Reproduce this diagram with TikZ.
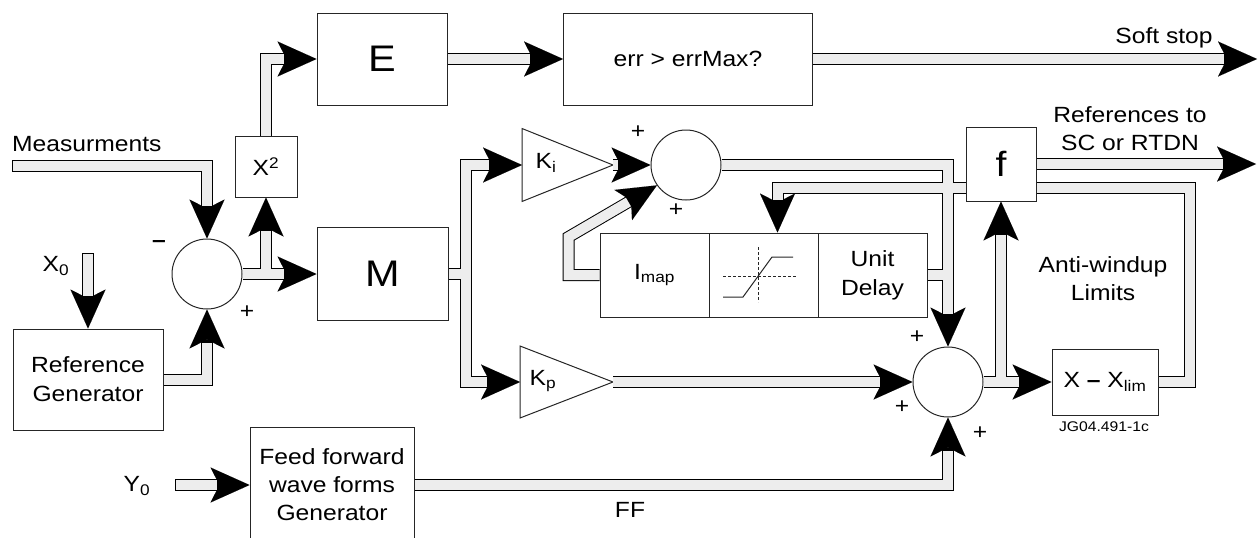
\documentclass[tikz,border=0pt]{standalone}
\usepackage{fontspec}
\setmainfont{Liberation Sans}[FakeStretch=1.12]
\usetikzlibrary{arrows.meta,calc}
\definecolor{pipegray}{HTML}{EDEDED}
\pgfdeclarelayer{tri}
\pgfdeclarelayer{pipes}
\pgfsetlayers{tri,pipes,main}
\newcommand\drawpipes[1]{%
  \draw[#1,arr] (E.east) -- (err.west);
  \draw[#1,arr] (err.east) -- (softend);
  \draw[#1,arr] (x2.north) |- (E.west);
  \draw[#1,arr] (s1.east) -- (M.west);
  \draw[#1,arr] (x2.south |- s1.east) -- (x2.south);
  \draw[#1,arr,freestart] (meas) -| (s1.north);
  \draw[#1,arr,freestart] (x0p) -- (rg.north);
  \draw[#1,arr] (rg.east) -| (s1.south);
  \draw[#1] (M.east) -- (mj);
  \draw[#1,arr] (mj) |- (ki);
  \draw[#1,arr] (mj) |- (kp);
  \draw[#1,arr] (kitip) -- (s2.west);
  \draw[#1,arr] (kptip) -- (s3.west);
  \draw[#1,arr] (s2.east) -| (s3.north);
  \draw[#1] (ud.east) -- (ud.east -| s3.north);
  \draw[#1,arr] (imap.west) -| (ib) -- (s2.215);
  \draw[#1,arr] (s3.east) -- (xl.west);
  \draw[#1,arr] (f.south |- s3.east) -- (f.south);
  \draw[#1,arr] (f.east) -- (refend);
  \draw[#1,arr] (xl.east) -| (awR) -| (satin);
  \draw[#1,arr,freestart] (y0p) -- (ff.west);
  \draw[#1,arr] (ff.east) -| (s3.south);
}
\begin{document}
\begin{tikzpicture}[x=1pt,y=-1pt,
  box/.style={draw=black!85, fill=white, line width=1pt, inner sep=0pt, align=center,
    font=\fontsize{22}{29}\selectfont},
  bigbox/.style={box, font=\fontsize{37}{37}\selectfont},
  sumc/.style={draw=black!85, fill=white, circle, minimum size=70pt, inner sep=0pt, line width=1pt},
  tri/.style={draw=black!85, fill=white, line width=1pt, line join=miter},
  lbl/.style={font=\fontsize{22}{28}\selectfont, align=center, inner sep=0pt},
  sgn/.style={font=\fontsize{22}{22}\selectfont, inner sep=0pt},
  outerpipe/.style={draw=black, line width=12pt, line join=miter, line cap=butt},
  innerpipe/.style={draw=pipegray, line width=10pt, line join=miter, line cap=butt},
]
\useasboundingbox (0,0) rectangle (1259,538);

% ---- blocks ----
\node[bigbox, minimum width=130pt, minimum height=92pt] (E) at (382,59) {E};
\node[box, minimum width=249pt, minimum height=92pt] (err) at (688,59) {err > errMax?};
\node[box, minimum width=62pt, minimum height=61pt] (x2) at (266,166.5) {X\textsuperscript{2}};
\node[sumc] (s1) at (207,274) {};
\node[bigbox, minimum width=131pt, minimum height=93pt] (M) at (382.5,274) {M};
\node[box, minimum width=150pt, minimum height=101pt] (rg) at (88,379.5) {Reference\\Generator};
\node[box, minimum width=164pt, minimum height=116pt, font=\fontsize{22}{28}\selectfont] (ff) at (332,485)
  {Feed forward\\wave forms\\Generator};
\node[sumc] (s2) at (686,165) {};
\node[sumc] (s3) at (948,382) {};
\node[box, minimum width=109pt, minimum height=84pt] (imap) at (654.5,275) {I\textsubscript{map}};
\node[box, minimum width=109pt, minimum height=84pt] (sat) at (763.5,275) {};
\node[box, minimum width=109pt, minimum height=84pt] (ud) at (872.5,275) {Unit\\Delay};
\node[box, minimum width=70pt, minimum height=74pt, font=\fontsize{35}{35}\selectfont] (f) at (1001,164) {f};
\node[box, minimum width=106pt, minimum height=66pt] (xl) at (1105,382) {X \textbf{–} X\textsubscript{lim}};

% saturation symbol
\draw[black!85, line width=0.9pt, dash pattern=on 3pt off 2pt] (723,276) -- (797,276);
\draw[black!85, line width=0.9pt, dash pattern=on 3pt off 2pt] (758,247) -- (758,302);
\draw[black!85, line width=1pt] (723,297) -- (743,297) -- (772,257) -- (793,257);

% ---- gains (triangles) ----
\coordinate (ki) at (522,165);
\coordinate (kitip) at (613,165);
\coordinate (kp) at (520,382);
\coordinate (kptip) at (613,382);
\begin{pgfonlayer}{tri}
\draw[tri] (ki) -- ($(ki)+(0,-36.5)$) -- (kitip) -- ($(ki)+(0,36.5)$) -- cycle;
\draw[tri] (kp) -- ($(kp)+(0,-36)$) -- (kptip) -- ($(kp)+(0,36)$) -- cycle;
\end{pgfonlayer}
\node[lbl] (kil) at (546,163) {K\textsubscript{i}};
\node[lbl] (kpl) at (543,381) {K\textsubscript{p}};

% ---- helper coordinates ----
\coordinate (softend) at (1257,59);
\coordinate (refend) at (1256,164);
\coordinate (meas) at (12,165.5);
\coordinate (x0p) at (88,253);
\coordinate (y0p) at (175,485);
\coordinate (mj) at (465.5,274);
\coordinate (ib) at (568.5,237);
\coordinate (awR) at (1190,187.5);
\coordinate (satin) at ($(sat.north)+(14,0)$);

% ---- pipes ----
\begin{pgfonlayer}{pipes}
\tikzset{arr/.style={-{Stealth[length=39pt,width=35pt,inset=9pt,line width=0.01pt]}},
         freestart/.style={}}
\drawpipes{outerpipe}
\tikzset{arr/.style={shorten >=33pt}, freestart/.style={shorten <=1pt}}
\drawpipes{innerpipe}
\end{pgfonlayer}

% ---- labels ----
\node[lbl, anchor=base west] (meastxt) at (12,151) {Measurments};
\node[lbl] (x0t) at (56,266) {X\textsubscript{0}};
\node[lbl] (y0t) at (137,486) {Y\textsubscript{0}};
\node[lbl] (fft) at (630,510) {FF};
\node[lbl] (soft) at (1164,38) {Soft stop};
\node[lbl] (reft) at (1130,129) {References to\\SC or RTDN};
\node[lbl] (awt) at (1103,279) {Anti-windup\\Limits};
\node[inner sep=0pt, font=\fontsize{14}{16}\selectfont] (jg) at (1104,427) {JG04.491-1c};

% ---- signs ----
\node[sgn] (m1) at (159,244) {\textbf{–}};
\node[sgn] (p1) at (247,312) {+};
\node[sgn] (p2) at (638,132) {+};
\node[sgn] (p3) at (676,210) {+};
\node[sgn] (p4) at (917,337) {+};
\node[sgn] (p5) at (902,407) {+};
\node[sgn] (p6) at (980,433) {+};
\end{tikzpicture}
\end{document}
